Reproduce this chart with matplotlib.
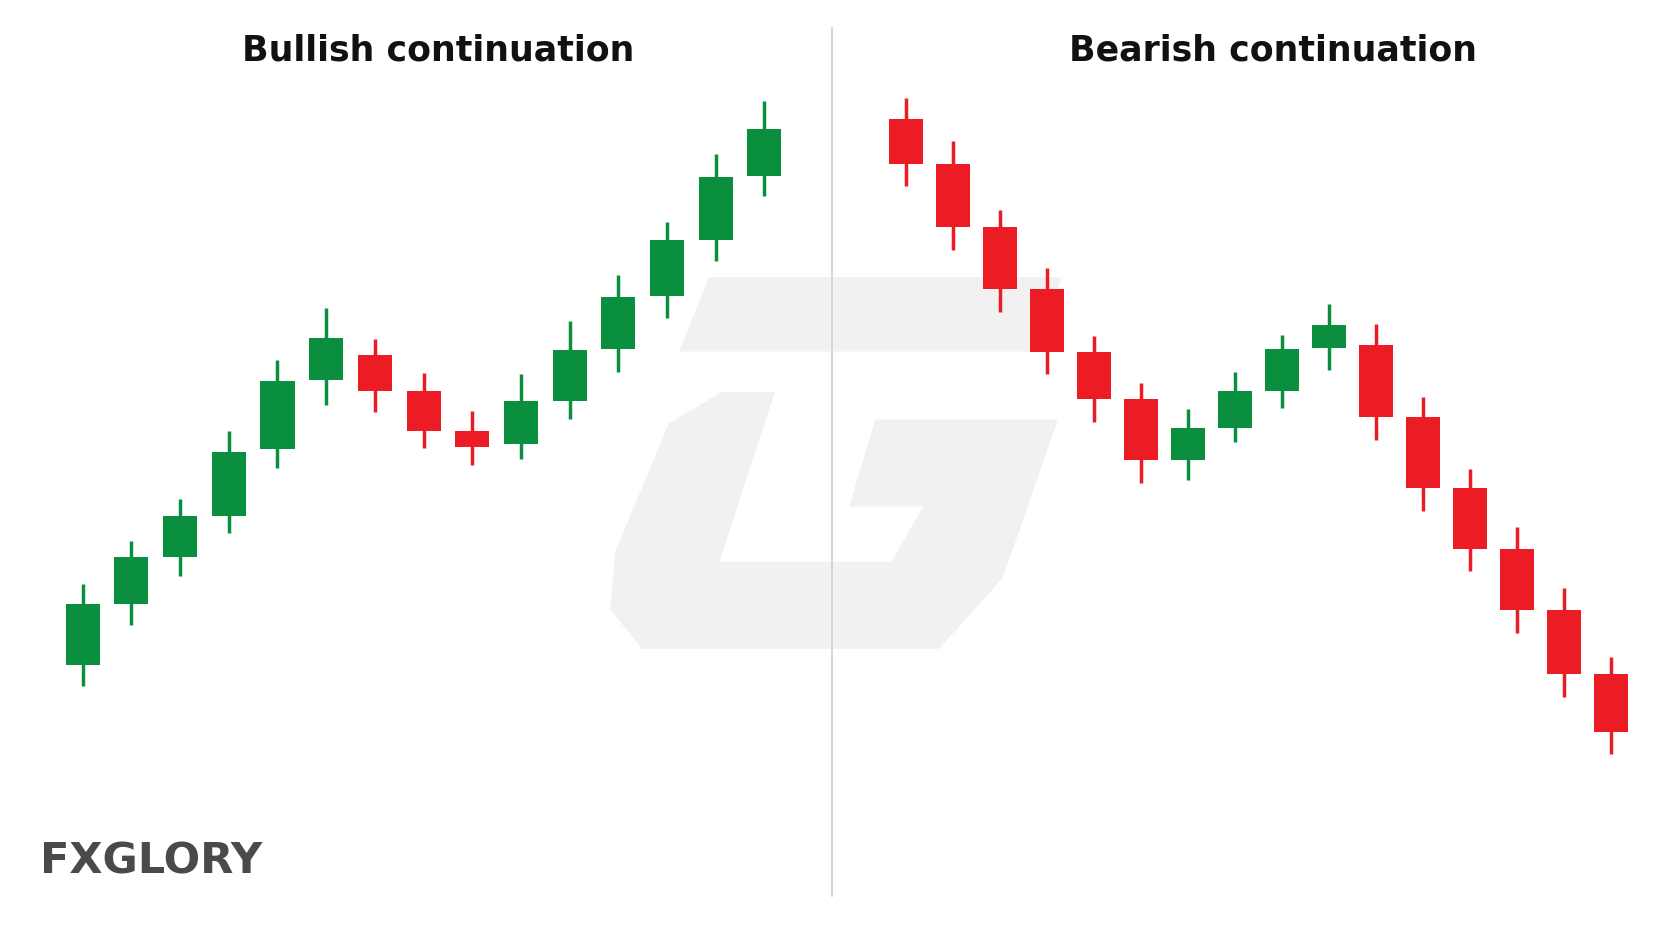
import matplotlib.pyplot as plt
from matplotlib.patches import Polygon, Rectangle

# candles (y grows downward, as in the image)
bull_open = [627, 570, 526, 487, 424, 359, 335, 369, 407, 419, 379, 330, 280, 227, 167]
bull_close = [570, 526, 487, 427, 360, 319, 369, 407, 422, 379, 331, 281, 227, 168, 122]
bull_high = [551, 510, 471, 407, 340, 291, 320, 352, 388, 353, 303, 260, 210, 146, 96]
bull_low = [647, 590, 543, 503, 442, 382, 389, 423, 439, 433, 396, 351, 300, 247, 186]

bear_open = [113, 155, 215, 273, 332, 377, 434, 404, 369, 329, 326, 394, 461, 518, 575, 636]
bear_close = [155, 215, 273, 332, 377, 434, 404, 369, 330, 307, 394, 461, 518, 575, 636, 690]
bear_high = [93, 134, 199, 253, 317, 362, 386, 351, 316, 287, 306, 375, 443, 497, 555, 620]
bear_low = [176, 236, 295, 353, 398, 456, 453, 417, 385, 349, 415, 482, 539, 597, 657, 711]

GREEN = "#0a8f3e"
RED = "#ec1c24"

W, H = 1568, 874
fig = plt.figure(figsize=(16.64, 9.28), dpi=100)

bg = fig.add_axes([0, 0, 1, 1])
bg.set_xlim(0, W)
bg.set_ylim(H, 0)
bg.axis("off")

# watermark
bg.add_patch(Polygon([(640, 332), (668, 262), (1000, 262), (980, 332)],
                     closed=True, fc="#f1f1f1", ec="none", joinstyle="round"))
bg.add_patch(Polygon([(730, 370), (678, 530), (840, 530), (870, 478), (800, 478),
                      (825, 396), (997, 396), (945, 545), (885, 612), (605, 612),
                      (575, 575), (580, 520), (630, 400), (680, 370)],
                     closed=True, fc="#f1f1f1", ec="none"))
bg.plot([784, 784], [27, 845], color="#d0d0d0", lw=1.2)

bg.text(413, 48, "Bullish continuation", ha="center", va="center",
        fontsize=25, fontweight="heavy", color="#111111")
bg.text(1200, 48, "Bearish continuation", ha="center", va="center",
        fontsize=25, fontweight="heavy", color="#111111")
bg.text(38, 811, "FXGLORY", ha="left", va="center", fontsize=31,
        fontweight="bold", color="#4a4a4a")


def candles(ax, o, c, h, l, width=0.7):
    for i in range(len(o)):
        col = GREEN if c[i] < o[i] else RED
        ax.plot([i, i], [h[i], l[i]], color=col, lw=2.5, solid_capstyle="butt", zorder=2)
        top = min(o[i], c[i])
        ax.add_patch(Rectangle((i - width / 2, top), width, abs(o[i] - c[i]),
                               fc=col, ec="none", zorder=3))


left = fig.add_axes([0, 0, 0.5, 1])
left.set_xlim(-1.70, 15.39)
left.set_ylim(H, 0)
left.axis("off")
candles(left, bull_open, bull_close, bull_high, bull_low)

right = fig.add_axes([0.5, 0, 0.5, 1])
right.set_xlim(-1.58, 16.12)
right.set_ylim(H, 0)
right.axis("off")
candles(right, bear_open, bear_close, bear_high, bear_low, width=0.72)

fig.savefig("out.png", dpi=100, facecolor="white")
